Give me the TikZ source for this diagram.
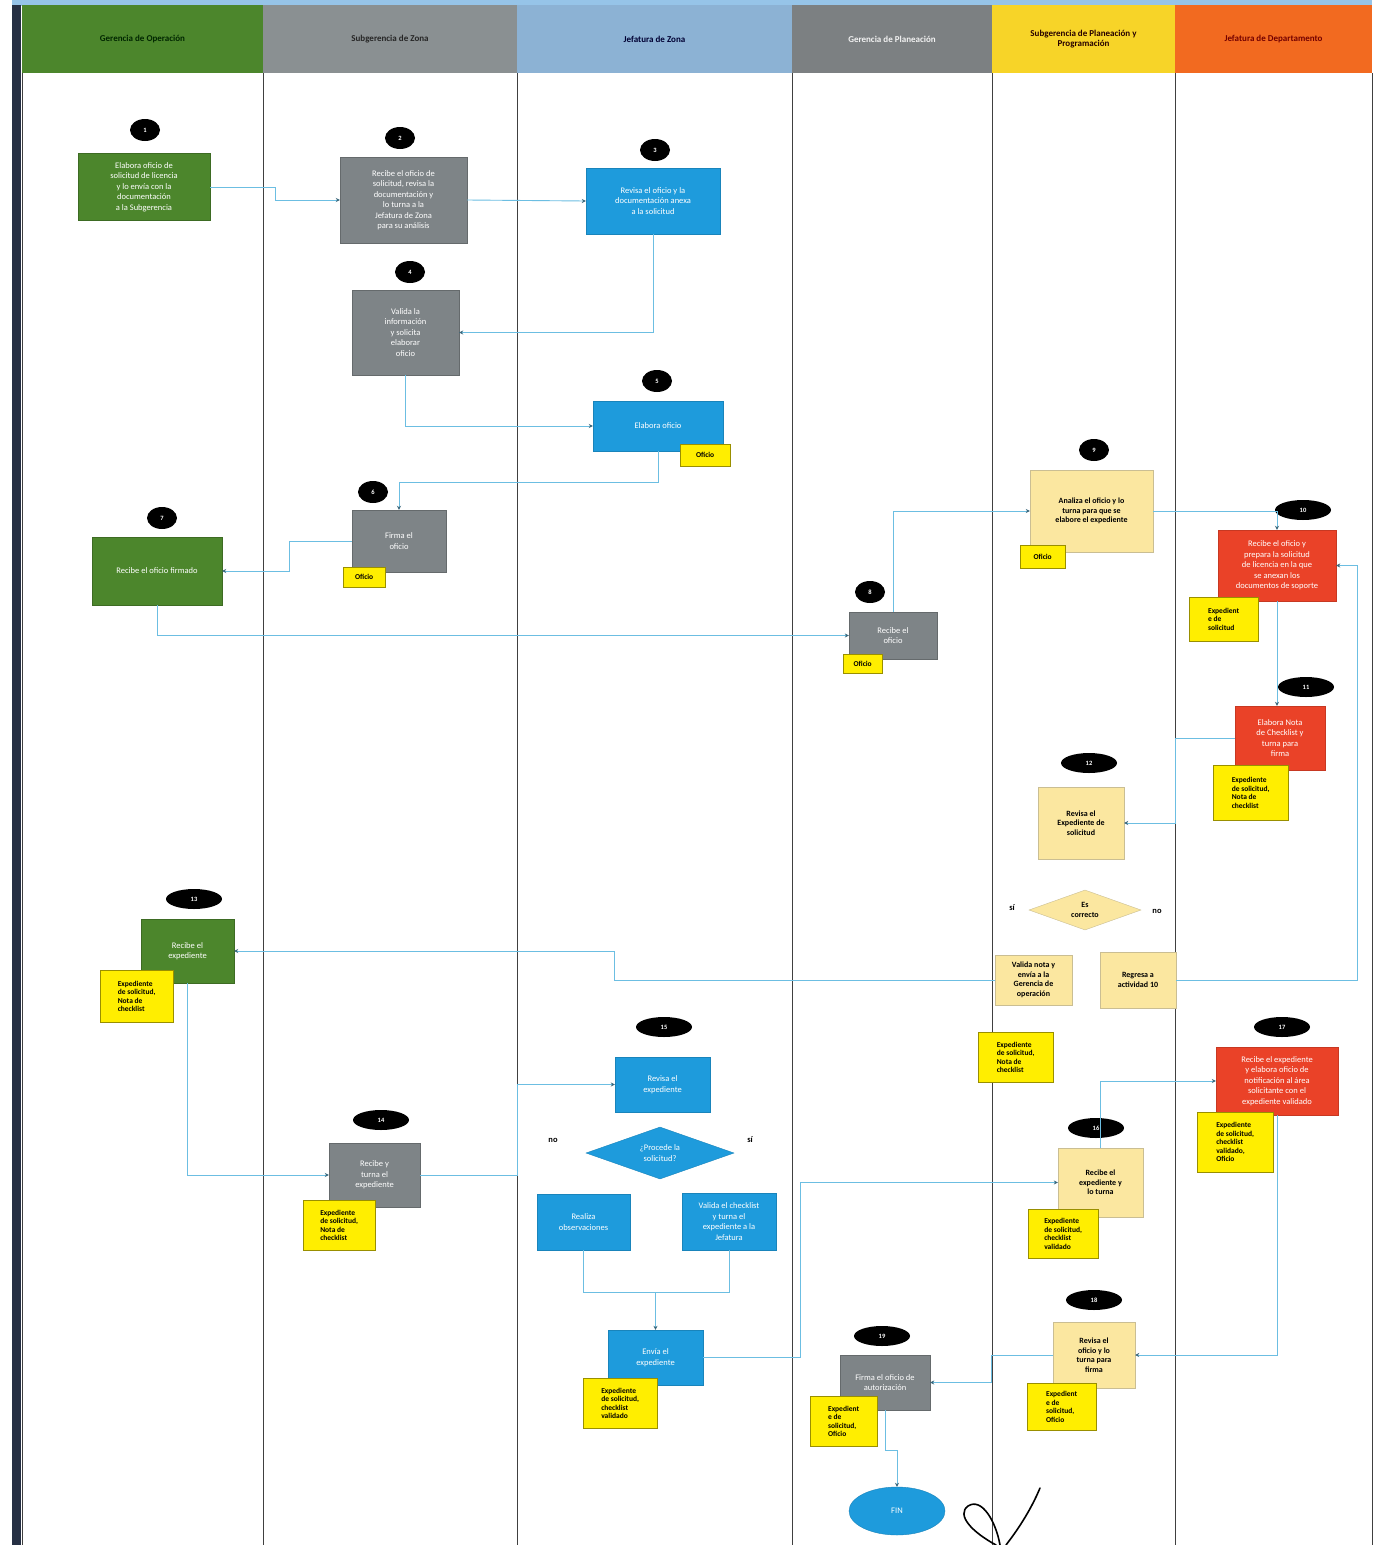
\documentclass[tikz,border=0pt]{standalone}
\usepackage{fontspec}
\setmainfont{Carlito}
\usepackage{tikz}
\usepackage{xcolor}
\usetikzlibrary{arrows.meta,positioning,shapes.geometric}
\definecolor{opgreen}{RGB}{76,134,44}
\definecolor{zonegray}{RGB}{126,132,135}
\definecolor{zonehead}{RGB}{138,144,146}
\definecolor{jefblue}{RGB}{140,178,212}
\definecolor{plangray}{RGB}{124,128,130}
\definecolor{taskblue}{RGB}{30,155,220}
\definecolor{planyellow}{RGB}{247,212,40}
\definecolor{deptorange}{RGB}{242,106,32}
\definecolor{taskred}{RGB}{234,66,40}
\definecolor{cream}{RGB}{251,231,160}
\definecolor{notey}{RGB}{255,238,0}
\definecolor{linkblue}{RGB}{108,190,226}
\definecolor{framenavy}{RGB}{38,48,68}
\definecolor{topsky}{RGB}{150,196,232}

\begin{document}
\begin{tikzpicture}[
  x=1pt, y=-1pt,
  font=\fontsize{8.5}{10.5}\selectfont,
  boxsize/.style 2 args={minimum width=#1, minimum height=#2},
  hdr/.style={rectangle, minimum height=68, inner sep=0pt, align=center, font=\fontsize{9}{10.5}\selectfont\bfseries},
  task/.style={rectangle, inner sep=2pt, align=center, text=white, line width=0.4pt},
  gtask/.style={task, fill=opgreen, draw=opgreen!80!black},
  ztask/.style={task, fill=zonegray, draw=zonegray!80!black},
  btask/.style={task, fill=taskblue, draw=taskblue!85!black},
  rtask/.style={task, fill=taskred, draw=taskred!85!black},
  ytask/.style={task, fill=cream, draw=cream!60!gray, text=black, font=\fontsize{8}{9.5}\selectfont\bfseries},
  badge/.style={ellipse, fill=black, text=white, minimum width=30, minimum height=22, inner sep=0pt, font=\fontsize{6.5}{7.5}\selectfont\bfseries},
  wbadge/.style={badge, minimum width=56, minimum height=20},
  note/.style={rectangle, anchor=north west, fill=notey, draw=notey!60!black, line width=0.3pt, align=left, inner sep=2pt, font=\fontsize{7.5}{8.5}\selectfont\bfseries},
  lbl/.style={inner sep=1pt, font=\fontsize{8.5}{10}\selectfont\bfseries},
  laneline/.style={draw=black!75, line width=1pt},
  link/.style={draw=linkblue, line width=0.9pt, -{Stealth[length=4pt, width=4pt, color=linkblue!55!black]}},
  joinline/.style={draw=linkblue, line width=0.9pt}
]
\useasboundingbox (0,0) rectangle (1379,1545);
\fill[white] (0,0) rectangle (1379,1545);
\fill[topsky] (12,0) rectangle (1372,6);
\fill[framenavy] (12,5) rectangle (21,1545);

\node[hdr, fill=opgreen, minimum width=241, text=black!85!green] (h1) at (142.5,39) {Gerencia de Operación};
\node[hdr, fill=zonehead, minimum width=254, text=black!85] (h2) at (390,39) {Subgerencia de Zona};
\node[hdr, fill=jefblue, minimum width=275, text=black!80!blue] (h3) at (654.5,39) {Jefatura de Zona};
\node[hdr, fill=plangray, minimum width=200, text=white!90!gray] (h4) at (892,39) {Gerencia de Planeación};
\node[hdr, fill=planyellow, minimum width=183, text=black!85!red] (h5) at (1083.5,39) {Subgerencia de Planeación y\\Programación};
\node[hdr, fill=deptorange, minimum width=197, text=red!45!black] (h6) at (1273.5,39) {Jefatura de Departamento};

\draw[laneline] (22,73) -- (22,1545);
\draw[laneline] (263,73) -- (263,1545);
\draw[laneline] (517,73) -- (517,1545);
\draw[laneline] (792,73) -- (792,1545);
\draw[laneline] (992,73) -- (992,1545);
\draw[laneline] (1175,73) -- (1175,1545);
\draw[laneline] (1372,73) -- (1372,1545);

\node[gtask, boxsize={132}{67}] (a1) at (144,187) {Elabora oficio de\\solicitud de licencia\\y lo envía con la\\documentación\\a la Subgerencia};
\node[badge] (b1) at (145,130) {1};
\node[ztask, boxsize={127}{86}] (a2) at (403.5,200) {Recibe el oficio de\\solicitud, revisa la\\documentación y\\lo turna a la\\Jefatura de Zona\\para su análisis};
\node[badge] (b2) at (400,138) {2};
\node[btask, boxsize={134}{66}] (a3) at (653,201) {Revisa el oficio y la\\documentación anexa\\a la solicitud};
\node[badge] (b3) at (655,150) {3};
\node[ztask, boxsize={107}{85}] (a4) at (405.5,332.5) {Valida la\\información\\y solicita\\elaborar\\oficio};
\node[badge] (b4) at (410,272) {4};
\node[btask, boxsize={130}{50}] (a5) at (658,426) {Elabora oficio};
\node[badge] (b5) at (657,381) {5};
\node[note, boxsize={50}{22}, align=center] (n5) at (680,444) {Oficio};
\node[ztask, boxsize={94}{62}] (a6) at (399,541) {Firma el\\oficio};
\node[badge] (b6) at (373,492) {6};
\node[note, boxsize={42}{20}, align=center] (n6) at (343,567) {Oficio};
\node[gtask, boxsize={130}{68}] (a7) at (157,571) {Recibe el oficio firmado};
\node[badge] (b7) at (162,518) {7};
\node[ztask, boxsize={88}{47}] (a8) at (893,635.5) {Recibe el\\oficio};
\node[badge] (b8) at (870,592) {8};
\node[note, boxsize={39}{19}, align=center] (n8) at (843,654) {Oficio};

\node[ytask, boxsize={123}{82}] (a9) at (1091.5,511) {Analiza el oficio y lo\\turna para que se\\elabore el expediente};
\node[badge] (b9) at (1094,450) {9};
\node[note, boxsize={45}{23}, align=center] (n9) at (1020,545) {Oficio};
\node[rtask, boxsize={118}{71}] (a10) at (1277,565.5) {Recibe el oficio y\\prepara la solicitud\\de licencia en la que\\se anexan los\\documentos de soporte};
\node[wbadge] (b10) at (1303,510) {10};
\node[note, boxsize={69}{44}] (n10) at (1189,597) {Expedient\\e de\\solicitud};
\node[rtask, boxsize={90}{64}] (a11) at (1280,738) {Elabora Nota\\de Checklist y\\turna para\\firma};
\node[wbadge] (b11) at (1306,687) {11};
\node[note, boxsize={75}{55}] (n11) at (1213,765) {Expediente\\de solicitud,\\Nota de\\checklist};
\node[ytask, boxsize={86}{72}] (a12) at (1081,823) {Revisa el\\Expediente de\\solicitud};
\node[wbadge] (b12) at (1089,763) {12};
\node[ytask, diamond, minimum width=112, minimum height=40, inner sep=0pt, aspect=2.8] (d12) at (1085,910) {Es\\correcto};
\node[lbl] (s12) at (1012,908) {sí};
\node[lbl] (o12) at (1157,911) {no};
\node[ytask, boxsize={77}{50}] (v12) at (1033.5,980) {Valida nota y\\envía a la\\Gerencia de\\operación};
\node[ytask, boxsize={76}{56}] (r12) at (1138,980) {Regresa a\\actividad 10};
\node[note, boxsize={75}{50}] (n12) at (978,1032) {Expediente\\de solicitud,\\Nota de\\checklist};

\node[gtask, boxsize={93}{64}] (a13) at (187.5,951) {Recibe el\\expediente};
\node[wbadge] (b13) at (194,899) {13};
\node[note, boxsize={73}{52}] (n13) at (100,970) {Expediente\\de solicitud,\\Nota de\\checklist};
\node[ztask, boxsize={91}{64}] (a14) at (374.5,1175) {Recibe y\\turna el\\expediente};
\node[wbadge] (b14) at (381,1120) {14};
\node[note, boxsize={72}{50}] (n14) at (303,1200) {Expediente\\de solicitud,\\Nota de\\checklist};
\node[btask, boxsize={95}{55}] (a15) at (662.5,1084.5) {Revisa el\\expediente};
\node[wbadge] (b15) at (664,1027) {15};
\node[btask, diamond, minimum width=148, minimum height=52, inner sep=0pt, aspect=2.8] (d15) at (660,1153) {¿Procede la\\solicitud?};
\node[lbl] (o15) at (553,1140) {no};
\node[lbl] (s15) at (750,1140) {sí};
\node[btask, boxsize={93}{56}] (a15n) at (583.5,1222) {Realiza\\observaciones};
\node[btask, boxsize={94}{57}] (a15s) at (729,1221.5) {Valida el checklist\\y turna el\\expediente a la\\Jefatura};
\node[btask, boxsize={95}{55}] (a15e) at (655.5,1357.5) {Envía el\\expediente};
\node[note, boxsize={74}{50}] (n15) at (583,1378) {Expediente\\de solicitud,\\checklist\\validado};
\coordinate (j15) at (655.5,1292);

\node[ytask, boxsize={85}{69}] (a16) at (1100.5,1182.5) {Recibe el\\expediente y\\lo turna};
\node[wbadge] (b16) at (1096,1128) {16};
\node[note, boxsize={70}{49}] (n16) at (1028,1209) {Expediente\\de solicitud,\\checklist\\validado};
\node[rtask, boxsize={122}{68}] (a17) at (1277,1081) {Recibe el expediente\\y elabora oficio de\\notificación al área\\solicitante con el\\expediente validado};
\node[wbadge] (b17) at (1282,1027) {17};
\node[note, boxsize={76}{60}] (n17) at (1197,1112) {Expediente\\de solicitud,\\checklist\\validado,\\Oficio};
\node[ytask, boxsize={82}{66}] (a18) at (1094,1355) {Revisa el\\oficio y lo\\turna para\\firma};
\node[wbadge] (b18) at (1094,1300) {18};
\node[note, boxsize={69}{47}] (n18) at (1027,1383) {Expedient\\e de\\solicitud,\\Oficio};
\node[ztask, boxsize={90}{55}] (a19) at (885,1382.5) {Firma el oficio de\\autorización};
\node[wbadge] (b19) at (882,1336) {19};
\node[note, boxsize={67}{50}] (n19) at (810,1396) {Expedient\\e de\\solicitud,\\Oficio};
\node[btask, ellipse, minimum width=96, minimum height=48, inner sep=0pt] (fin) at (897,1511) {FIN};

\draw[link] (a1.east) -- ++(65,0) |- (a2.west);
\draw[link] (a2.east) -- (a3.west);
\draw[link] (a3.south) |- (a4.east);
\draw[link] (a4.south) |- (a5.west);
\draw[link] (a5.south) -- ++(0,31) -| (a6.north);
\draw[link] (a6.west) -- ++(-62,0) |- (a7.east);
\draw[link] (a7.south) |- (a8.west);
\draw[link] (a8.north) |- (a9.west);
\draw[link] (a9.east) -| (a10.north);
\draw[link] (a10.south) -- (a10.south |- a11.north);
\draw[link] (a11.west) -- ++(-59,0) |- (a12.east);
\draw[link] (v12.west) -- ++(-380,0) |- (a13.east);
\draw[link] (r12.east) -- ++(181,0) |- (a10.east);
\draw[link] (a13.south) |- (a14.west);
\draw[link] (a14.east) -- ++(97,0) |- (a15.west);
\draw[joinline] (a15n.south) |- (j15) -| (a15s.south);
\draw[link] (j15) -- (a15e.north);
\draw[link] (a15e.east) -- ++(97,0) |- (a16.west);
\draw[link] (a16.north) |- (a17.west);
\draw[link] (a17.south) |- (a18.east);
\draw[link] (a18.west) -- ++(-61,0) |- (a19.east);
\draw[link] (a19.south) -- ++(0,40) -| (fin.north);

\draw[line width=1.6pt, black, line cap=round] (1040,1488) .. controls (1030,1512) and (1016,1532) .. (1006,1545);
\draw[line width=1.6pt, black, line cap=round] (996,1545) .. controls (972,1532) and (956,1515) .. (968,1506) .. controls (982,1497) and (996,1522) .. (1000,1545);
\end{tikzpicture}
\end{document}
